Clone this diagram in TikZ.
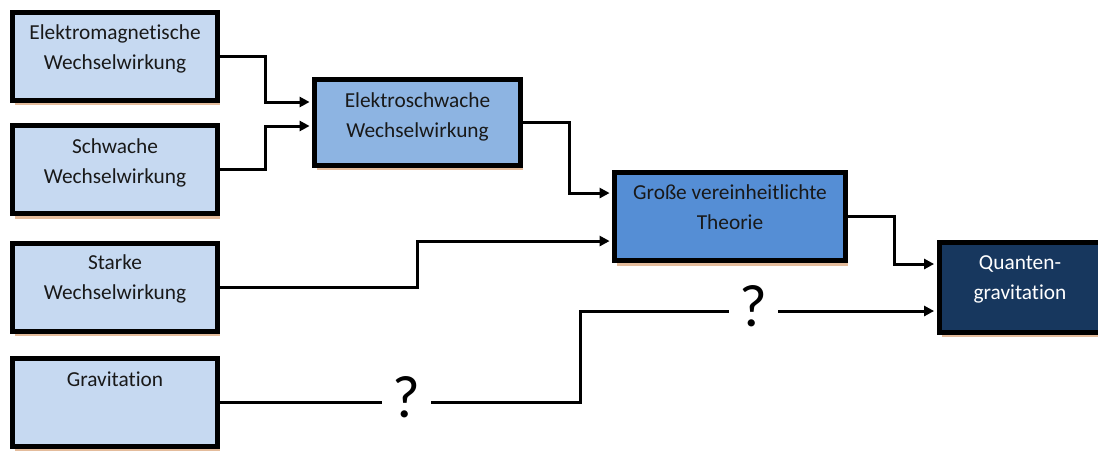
\documentclass[tikz,border=0pt]{standalone}
\usepackage{fontspec}
\setmainfont{Carlito}[Ligatures=NoCommon]
\usepackage{tikz}
\usetikzlibrary{arrows.meta,shadows}
\definecolor{boxlight}{HTML}{C6D9F1}
\definecolor{boxmid}{HTML}{8DB4E2}
\definecolor{boxgut}{HTML}{558ED5}
\definecolor{boxdark}{HTML}{17375E}
\definecolor{shadowtan}{HTML}{E4BC9C}
\tikzstyle{wbox} = [draw=black, line width=3.75pt, inner sep=0pt, drop shadow={shadow xshift=2pt, shadow yshift=-4pt, fill=shadowtan, opacity=1}]
\tikzstyle{lbl} = [align=center, anchor=north, inner sep=0pt, font=\fontsize{16}{22.5}\selectfont, text=black!90]
\tikzstyle{conn} = [line width=2.25pt, shorten >=1.8pt, -{Triangle[length=7.5pt,width=7.5pt]}]
\tikzstyle{qmark} = [fill=white, inner xsep=7.8pt, inner ysep=1pt, yshift=3.75pt, font=\fontsize{45}{45}\selectfont]

\begin{document}
\begin{tikzpicture}[x=0.75pt,y=-0.75pt]
			\useasboundingbox (0,0) rectangle (1098,450);
			% linke Spalte
			\node[wbox, fill=boxlight, minimum width=153.75pt, minimum height=66pt] (e1) at (115,56) {};
			\node[wbox, fill=boxlight, minimum width=153.75pt, minimum height=66pt] (e2) at (115,169.5) {};
			\node[wbox, fill=boxlight, minimum width=153.75pt, minimum height=66pt] (e3) at (115,287) {};
			\node[wbox, fill=boxlight, minimum width=153.75pt, minimum height=66pt] (e4) at (115,402) {};
			\node[lbl] (e1t) at (115,24.5) {Elektromagnetische\\Wechselwirkung};
			\node[lbl] (e2t) at (115,138) {Schwache\\Wechselwirkung};
			\node[lbl] (e3t) at (115,254.5) {Starke\\Wechselwirkung};
			\node[lbl] (e4t) at (115,372) {Gravitation};
			% Vereinigungen
			\node[wbox, fill=boxmid, minimum width=154.5pt, minimum height=64.5pt] (ew) at (417.5,122) {};
			\node[wbox, fill=boxgut, minimum width=173.25pt, minimum height=66pt] (gut) at (730,216.5) {};
			\node[wbox, fill=boxdark, minimum width=127.5pt, minimum height=67.5pt] (qg) at (1024,287) {};
			\node[lbl] (ewt) at (417.5,92) {Elektroschwache\\Wechselwirkung};
			\node[lbl] (gutt) at (730,184.5) {Große vereinheitlichte\\Theorie};
			\node[lbl, text=white] (qgt) at (1020,255) {Quanten-\\gravitation};
			% Verbindungen
			\draw[conn] (e1.east) -- ++(45.5,0) |- ([yshift=15pt]ew.west);
			\draw[conn] (e2.east) -- ++(45.5,0) |- ([yshift=-3pt]ew.west);
			\draw[conn] (ew.east) -- ++(46.5,0) |- ([yshift=17.6pt]gut.west);
			\draw[conn] (e3.east) -- ++(197.5,0) |- ([yshift=-18.4pt]gut.west);
			\draw[conn] (gut.east) -- ++(46.5,0) |- ([yshift=17.25pt]qg.west);
			\draw[conn] (e4.east) -- node[qmark, pos=0.517] (q1) {?} ++(360.5,0) |- node[qmark, pos=0.743] (q2) {?} ([yshift=-18pt]qg.west);
		\end{tikzpicture}
\end{document}
